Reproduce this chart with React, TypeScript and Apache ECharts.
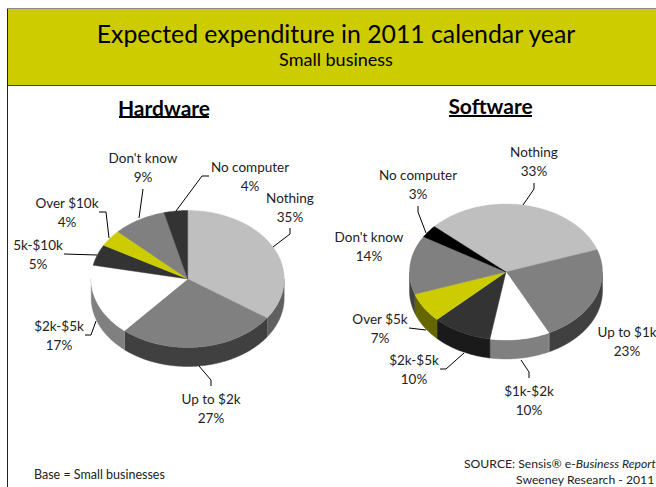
import React, { useEffect, useRef } from "react";
import * as echarts from "echarts";

const hardwareCategories = ["Nothing", "Up to $2k", "$2k-$5k", "5k-$10k", "Over $10k", "Don't know", "No computer"];
const hardwareValues = [35, 27, 17, 5, 4, 9, 4];
const softwareCategories = ["Nothing", "Up to $1k", "$1k-$2k", "$2k-$5k", "Over $5k", "Don't know", "No computer"];
const softwareValues = [33, 23, 10, 10, 7, 14, 3];

const hardwareTop = ["#bfbfbf", "#808080", "#ffffff", "#333333", "#cccc00", "#808080", "#333333"];
const hardwareSide = ["#606060", "#404040", "#808080", "#1a1a1a", "#666600", "#404040", "#1a1a1a"];
const softwareTop = ["#bfbfbf", "#808080", "#ffffff", "#333333", "#cccc00", "#808080", "#000000"];
const softwareSide = ["#606060", "#404040", "#808080", "#1a1a1a", "#666600", "#404040", "#000000"];

const FONT = "Lato";

// label centre x, first-line centre y, leader points
const hardwareLabels: [number, number, number[][]][] = [
  [290, 198, [[290, 228], [290, 234], [273, 247]]],
  [211, 399, [[211, 386], [211, 380], [199, 366]]],
  [59, 326, [[85, 335], [91, 335], [96, 321]]],
  [38, 245, [[64, 254], [97, 255]]],
  [67, 203, [[99, 212], [106, 212], [109, 238]]],
  [143, 158, [[143, 189], [139, 218]]],
  [250, 167, [[209, 176], [202, 176], [176, 211]]],
];
const softwareLabels: [number, number, number[][]][] = [
  [534, 152, [[534, 183], [534, 189], [523, 205]]],
  [627, 332, []],
  [529, 391, [[529, 378], [529, 372], [521, 360]]],
  [414, 360, [[440, 369], [446, 369], [464, 353]]],
  [380, 319, [[409, 328], [426, 330]]],
  [369, 237, []],
  [418, 175, [[418, 206], [418, 212], [426, 233]]],
];

function pieSeries(
  name: string, cats: string[], vals: number[], top: string[], side: string[],
  cx: number, cy: number, rx: number, ry: number, depth: number, start: number
) {
  const total = vals.reduce((a, b) => a + b, 0);
  const cum: number[] = [];
  vals.reduce((a, b, i) => ((cum[i] = a), a + b), 0);
  const pt = (deg: number) => {
    const t = (deg * Math.PI) / 180;
    return [cx + rx * Math.sin(t), cy - ry * Math.cos(t)];
  };
  const renderItem = (_p: any, api: any) => {
    const i = api.value(1) as number;
    const a0 = start + (cum[i] / total) * 360;
    const a1 = a0 + (api.value(0) / total) * 360;
    const arc: number[][] = [];
    for (let a = a0; a < a1; a += 1) arc.push(pt(a));
    arc.push(pt(a1));
    const children: any[] = [];
    const wallPts: number[][] = [];
    for (let a = a0; a <= a1 + 1e-6; a += 0.5) {
      const n = ((a % 360) + 360) % 360;
      if (n >= 90 && n <= 270) wallPts.push(pt(a));
    }
    if (wallPts.length > 1) {
      const lower = wallPts.map((p) => [p[0], p[1] + depth]).reverse();
      children.push({
        type: "polygon",
        z2: 1,
        shape: { points: wallPts.concat(lower) },
        style: { fill: side[i], stroke: side[i], lineWidth: 0.4 },
      });
    }
    children.push({
      type: "polygon",
      z2: 2,
      shape: { points: [[cx, cy], ...arc] },
      style: { fill: top[i], stroke: top[i], lineWidth: 0.4 },
    });
    return { type: "group", children };
  };
  return {
    type: "custom",
    name,
    coordinateSystem: "none",
    renderItem,
    silent: true,
    data: vals.map((v, i) => ({ name: cats[i], value: [v, i] })),
  };
}

function labelGraphics(cats: string[], vals: number[], layout: [number, number, number[][]][]) {
  const out: any[] = [];
  cats.forEach((c, i) => {
    const [x, y, leader] = layout[i];
    out.push({
      type: "text",
      x,
      y: y - 9.5,
      z: 10,
      style: {
        text: `${c}\n${vals[i]}%`,
        fontFamily: FONT,
        fontSize: 13.5,
        lineHeight: 19,
        fill: "#222222",
        align: "center",
        verticalAlign: "top",
      },
    });
    if (leader.length)
      out.push({
        type: "polyline",
        z: 9,
        shape: { points: leader },
        style: { fill: "none", stroke: "#000", lineWidth: 1 },
      });
  });
  return out;
}

export default function App() {
  const ref = useRef<HTMLDivElement>(null);
  useEffect(() => {
    document.body.style.margin = "0";
    const chart = echarts.init(ref.current!, undefined, { renderer: "svg" });
    const head = (text: string, x: number, y: number, size: number, weight: string) => ({
      type: "text", x, y, z: 10,
      style: { text, fontFamily: FONT, fontSize: size, fontWeight: weight, fill: "#000", align: "center", verticalAlign: "middle" },
    });
    chart.setOption({
      animation: false,
      backgroundColor: "#ffffff",
      series: [
        pieSeries("Hardware", hardwareCategories, hardwareValues, hardwareTop, hardwareSide, 187.7, 279, 96.5, 68.5, 19, 0),
        pieSeries("Software", softwareCategories, softwareValues, softwareTop, softwareSide, 506, 272, 96.5, 68, 19, 312),
      ],
      graphic: [
        { type: "rect", z: 0, shape: { x: 8, y: 9, width: 648, height: 76 }, style: { fill: "#cccc00" } },
        { type: "line", z: 0, shape: { x1: 7, y1: 8.5, x2: 656, y2: 8.5 }, style: { stroke: "#8a8a8a", lineWidth: 1 } },
        { type: "line", z: 0, shape: { x1: 8, y1: 85.5, x2: 656, y2: 85.5 }, style: { stroke: "#44440a", lineWidth: 1 } },
        { type: "line", z: 0, shape: { x1: 7.5, y1: 9, x2: 7.5, y2: 487 }, style: { stroke: "#222", lineWidth: 1 } },
        head("Expected expenditure in 2011 calendar year", 336, 33, 24.8, "normal"),
        head("Small business", 336, 59, 18, "normal"),
        head("Hardware", 164, 107, 21, "bold"),
        { type: "rect", z: 10, shape: { x: 119, y: 116, width: 90, height: 2 }, style: { fill: "#000" } },
        head("Software", 490.5, 105.5, 21, "bold"),
        { type: "rect", z: 10, shape: { x: 449, y: 115, width: 83, height: 2 }, style: { fill: "#000" } },
        ...labelGraphics(hardwareCategories, hardwareValues, hardwareLabels),
        ...labelGraphics(softwareCategories, softwareValues, softwareLabels),
        {
          type: "text", x: 34, y: 474, z: 10,
          style: { text: "Base = Small businesses", fontFamily: FONT, fontSize: 12.5, fill: "#222222", verticalAlign: "middle" },
        },
        {
          type: "text", x: 464, y: 463, z: 10,
          style: {
            text: "SOURCE: Sensis® e-{i|Business Report}",
            fontFamily: FONT, fontSize: 12.2, fill: "#222222", verticalAlign: "middle",
            rich: { i: { fontFamily: FONT, fontSize: 12.2, fontStyle: "italic", fill: "#222222" } },
          },
        },
        {
          type: "text", x: 516, y: 479, z: 10,
          style: { text: "Sweeney Research - 2011", fontFamily: FONT, fontSize: 12.2, fill: "#222222", verticalAlign: "middle" },
        },
      ],
    });
    return () => chart.dispose();
  }, []);
  return <div ref={ref} style={{ width: 656, height: 487 }} />;
}
